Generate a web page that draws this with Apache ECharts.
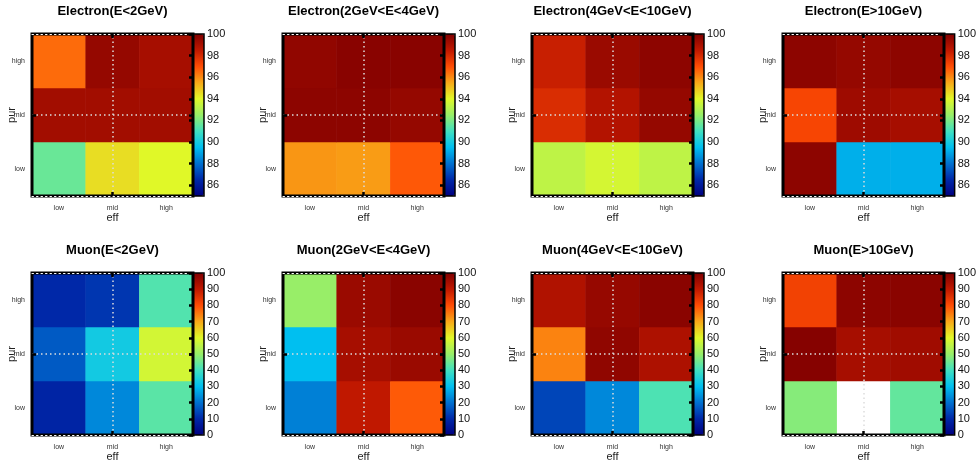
<!DOCTYPE html>
<html>
<head>
<meta charset="utf-8">
<script src="https://cdn.jsdelivr.net/npm/echarts@6/dist/echarts.min.js"></script>
<style>html,body{margin:0;padding:0;background:#fff}#c{width:979px;height:464px}</style>
</head>
<body>
<div id="c"></div>
<script>
// ---- data ----
const effCats = ['low', 'mid', 'high'];
const purCats = ['low', 'mid', 'high'];
const titles = ['Electron(E<2GeV)', 'Electron(2GeV<E<4GeV)', 'Electron(4GeV<E<10GeV)', 'Electron(E>10GeV)',
                'Muon(E<2GeV)', 'Muon(2GeV<E<4GeV)', 'Muon(4GeV<E<10GeV)', 'Muon(E>10GeV)'];
// rows: pur low, mid, high ; columns: eff low, mid, high
const electronE0to2   = [[91.7, 94.5, 94.0], [99.2, 99.2, 99.2], [96.5, 99.5, 99.1]];
const electronE2to4   = [[95.8, 95.7, 96.8], [99.7, 99.7, 99.5], [99.6, 99.8, 99.8]];
const electronE4to10  = [[93.3, 93.75, 93.3], [97.9, 98.8, 99.5], [98.3, 99.4, 99.7]];
const electronE10up   = [[99.7, 89.2, 89.2], [97.2, 99.3, 99.1], [99.7, 99.5, 99.7]];
const muonE0to2       = [[9, 23, 43], [17, 33, 58], [10, 12, 42]];
const muonE2to4       = [[22, 90, 78.5], [30, 94, 96], [50, 96, 98.5]];
const muonE4to10      = [[14, 23, 41.5], [74, 97.5, 93], [92.5, 96.5, 98.5]];
const muonE10up       = [[48, null, 44], [99, 94, 95], [82, 98, 98.5]];
const electronRange = [85, 100];
const muonRange = [0, 100];
const electronTicks = [86, 88, 90, 92, 94, 96, 98, 100];
const muonTicks = [0, 10, 20, 30, 40, 50, 60, 70, 80, 90, 100];

const panels = [electronE0to2, electronE2to4, electronE4to10, electronE10up,
                muonE0to2, muonE2to4, muonE4to10, muonE10up];

// ---- layout / style ----
const colLefts = [32, 283, 532, 783];
const rowTops = [34, 273];
const plotW = 161, plotH = 162, cbW = 11;
const palette = ['#000080', '#0028a8', '#0070d0', '#00bff0', '#40e0c0', '#98ee68',
                 '#e0f828', '#f8a818', '#ff4c04', '#c01800', '#800000'];

const option = {
  backgroundColor: '#fff',
  animation: false,
  textStyle: { fontFamily: 'Liberation Sans, Arial, sans-serif' },
  title: [], grid: [], xAxis: [], yAxis: [], series: [], visualMap: []
};

panels.forEach((mat, i) => {
  const row = Math.floor(i / 4), col = i % 4;
  const left = colLefts[col], top = rowTops[row];
  const isE = row === 0;
  const range = isE ? electronRange : muonRange;
  const ticks = isE ? electronTicks : muonTicks;

  option.title.push({
    text: titles[i], left: left + plotW / 2, top: top - 29, textAlign: 'center', padding: 0,
    textStyle: { fontSize: 13, fontWeight: 'bold', color: '#000' }
  });

  const g = option.grid.length;
  option.grid.push({ left: left, top: top, width: plotW, height: plotH, show: true,
    borderColor: '#000', borderWidth: 3, backgroundColor: 'transparent', z: 5 });
  const midTick = { show: true, alignWithLabel: true, inside: true, length: 4,
    interval: (idx) => idx === 1, lineStyle: { color: '#000', width: 2.5 } };
  const xb = option.xAxis.length;
  option.xAxis.push({ gridIndex: g, type: 'category', data: effCats, position: 'bottom', z: 6,
    axisLine: { show: true, lineStyle: { color: '#fff', width: 1, type: [1.5, 3] } },
    axisTick: midTick, splitLine: { show: false },
    axisLabel: { fontSize: 7, color: '#333', margin: 9 },
    name: 'eff', nameLocation: 'middle', nameGap: 16, nameMoveOverlap: false,
    nameTextStyle: { fontSize: 11, color: '#222' } });
  option.xAxis.push({ gridIndex: g, type: 'category', data: effCats, position: 'top', z: 6,
    axisLine: { show: true, lineStyle: { color: '#fff', width: 1, type: [1.5, 3] } },
    axisTick: midTick, axisLabel: { show: false }, splitLine: { show: false } });
  const yl = option.yAxis.length;
  option.yAxis.push({ gridIndex: g, type: 'category', data: purCats, position: 'left', z: 6,
    axisLine: { show: false }, axisTick: midTick, splitLine: { show: false },
    axisLabel: { fontSize: 7, color: '#333', margin: 7 },
    name: 'pur', nameLocation: 'middle', nameGap: 15, nameMoveOverlap: false,
    nameTextStyle: { fontSize: 11, color: '#222' } });
  option.yAxis.push({ gridIndex: g, type: 'category', data: purCats, position: 'right', z: 6,
    axisLine: { show: false }, axisTick: midTick, axisLabel: { show: false }, splitLine: { show: false } });

  const data = [];
  mat.forEach((rowVals, r) => rowVals.forEach((v, c) => {
    data.push([c, r, v === null ? '-' : v]);
  }));
  const sIdx = option.series.length;
  option.series.push({
    type: 'heatmap', xAxisIndex: xb, yAxisIndex: yl, data: data,
    emphasis: { disabled: true }, silent: true,
    markLine: { silent: true, symbol: 'none', label: { show: false },
      lineStyle: { color: '#ddd', width: 1.5, type: [1.5, 3] },
      data: [{ xAxis: 'mid' }, { yAxis: 'mid' }] }
  });

  option.visualMap.push({
    type: 'continuous', min: range[0], max: range[1], seriesIndex: sIdx, orient: 'vertical',
    left: left + plotW, top: top, itemWidth: cbW, itemHeight: plotH, padding: 0,
    calculable: false, hoverLink: false, text: null, inRange: { color: palette }
  });
  const cg = option.grid.length;
  option.grid.push({ left: left + plotW, top: top, width: cbW, height: plotH, show: true,
    borderColor: '#000', borderWidth: 1.5, backgroundColor: 'transparent', z: 10 });
  option.xAxis.push({ gridIndex: cg, type: 'value', show: false, min: 0, max: 1 });
  option.yAxis.push({ gridIndex: cg, type: 'value', min: range[0], max: range[1], position: 'right', z: 11,
    axisLine: { show: false }, splitLine: { show: false },
    axisTick: { show: true, inside: true, length: 4, lineStyle: { color: '#000', width: 2.5 }, customValues: ticks },
    axisLabel: { fontSize: 11, color: '#111', margin: 3, customValues: ticks } });
});

const chart = echarts.init(document.getElementById('c'), null, { renderer: 'canvas' });
chart.setOption(option);
</script>
</body>
</html>
